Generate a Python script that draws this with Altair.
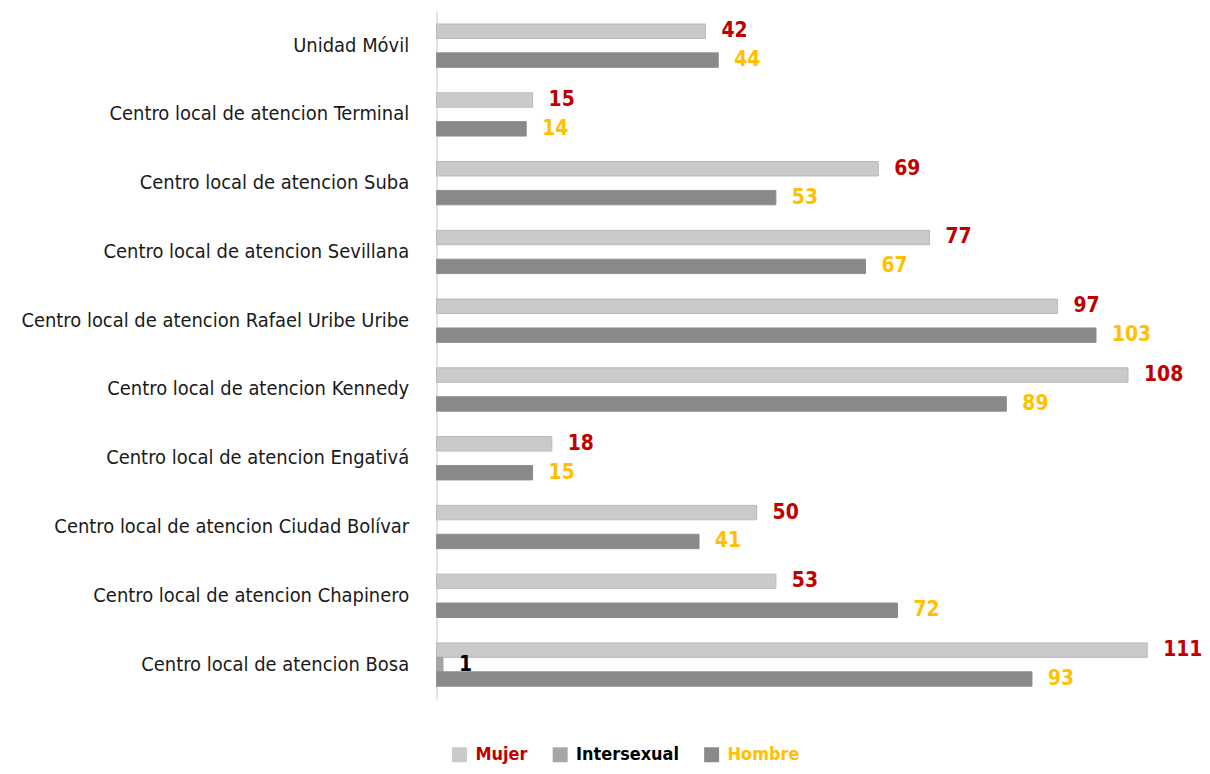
import altair as alt
import pandas as pd

categorias = [
    "Unidad Móvil",
    "Centro local de atencion Terminal",
    "Centro local de atencion Suba",
    "Centro local de atencion Sevillana",
    "Centro local de atencion Rafael Uribe Uribe",
    "Centro local de atencion Kennedy",
    "Centro local de atencion Engativá",
    "Centro local de atencion Ciudad Bolívar",
    "Centro local de atencion Chapinero",
    "Centro local de atencion Bosa",
]
mujer = [42, 15, 69, 77, 97, 108, 18, 50, 53, 111]
intersexual = [0, 0, 0, 0, 0, 0, 0, 0, 0, 1]
hombre = [44, 14, 53, 67, 103, 89, 15, 41, 72, 93]
series = ["Mujer", "Intersexual", "Hombre"]
colores_barra = ["#cacaca", "#a6a6a6", "#898989"]
bordes_barra = ["#b9b9b9", "#a0a0a0", "#8e8e8e"]
colores_texto = {"Mujer": "#c00000", "Intersexual": "#000000", "Hombre": "#ffc000"}

rows = []
for c, m, i, h in zip(categorias, mujer, intersexual, hombre):
    for s, v in zip(series, [m, i, h]):
        if v > 0:
            rows.append({"Centro": c, "Serie": s, "Valor": v})
df = pd.DataFrame(rows)

FONT = "DejaVu Sans Condensed, Liberation Sans Narrow, sans-serif"

y_enc = alt.Y(
    "Centro:N",
    sort=categorias,
    title=None,
    scale=alt.Scale(paddingInner=0.37, paddingOuter=0.185),
    axis=alt.Axis(
        domain=True,
        domainColor="#d9d9d9",
        domainWidth=1.5,
        ticks=False,
        labelPadding=28,
        labelFontSize=20,
        labelFont=FONT,
        labelColor="#1a1a1a",
        labelLimit=500,
    ),
)
yoff_enc = alt.YOffset(
    "Serie:N", sort=series, scale=alt.Scale(domain=series, paddingInner=0, paddingOuter=0)
)
x_enc = alt.X("Valor:Q", scale=alt.Scale(domain=[0, 118]), axis=None)

base = alt.Chart(df)

bars = base.mark_bar(strokeWidth=1).encode(
    y=y_enc,
    yOffset=yoff_enc,
    x=x_enc,
    color=alt.Color(
        "Serie:N",
        sort=series,
        scale=alt.Scale(domain=series, range=colores_barra),
        title=None,
        legend=alt.Legend(
            orient="none",
            legendX=14,
            legendY=737,
            direction="horizontal",
            symbolType="square",
            symbolSize=225,
            symbolStrokeWidth=0,
            labelFontSize=18,
            labelFont=FONT,
            labelFontWeight="bold",
            labelOffset=7,
            columnPadding=23,
            padding=0,
            labelColor=alt.ExprRef(
                "datum.value === 'Mujer' ? '#c00000' : (datum.value === 'Hombre' ? '#ffc000' : '#000000')"
            ),
        ),
    ),
    stroke=alt.Stroke(
        "Serie:N", scale=alt.Scale(domain=series, range=bordes_barra), legend=None
    ),
)

layers = [bars]
for s in series:
    layers.append(
        base.transform_filter(alt.datum.Serie == s)
        .mark_text(
            align="left",
            baseline="middle",
            dx=16,
            fontSize=21,
            fontWeight="bold",
            font=FONT,
            color=colores_texto[s],
        )
        .encode(y=y_enc, yOffset=yoff_enc, x=x_enc, text="Valor:Q")
    )

chart = (
    alt.layer(*layers)
    .properties(
        width=758,
        height=690,
        autosize=alt.AutoSizeParams(type="none"),
        padding={"left": 430, "top": 2, "right": 10, "bottom": 66},
    )
    .configure(font=FONT)
    .configure_view(strokeWidth=0, stroke="transparent")
)

chart.save("out.html", embed_options={"renderer": "svg", "actions": False})
